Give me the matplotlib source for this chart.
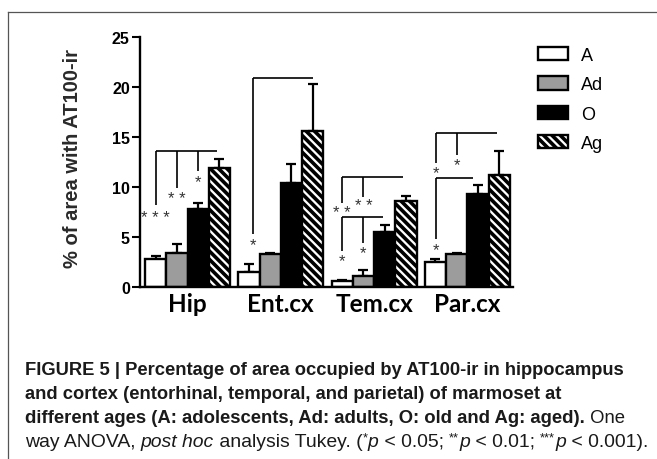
import matplotlib
matplotlib.use("Agg")
import matplotlib.pyplot as plt
import numpy as np
from matplotlib.lines import Line2D
from matplotlib.transforms import Bbox, TransformedBbox

# Percentage of area with AT100-ir, per region and age group
regions = ['Hip', 'Ent.cx', 'Tem.cx', 'Par.cx']
ages = ['A', 'Ad', 'O', 'Ag']

mean_A = [2.8, 1.5, 0.6, 2.5]
mean_Ad = [3.4, 3.25, 1.1, 3.3]
mean_O = [7.8, 10.4, 5.5, 9.25]
mean_Ag = [11.9, 15.6, 8.6, 11.2]

sem_A = [0.25, 0.75, 0.12, 0.25]
sem_Ad = [0.9, 0.1, 0.6, 0.1]
sem_O = [0.6, 1.85, 0.7, 0.9]
sem_Ag = [0.85, 4.65, 0.45, 2.35]

# Tukey brackets: (region, bar where line starts, bar where line ends, height,
#                  [(bar, lower end of the drop, star height, stars), ...])
brackets = [
    (0, 0, 2.9, 13.6, [(0, 8.2, 7.4, '***'), (1, 9.9, 9.3, '**'), (2, 11.6, 11.0, '*')]),
    (1, 0.2, 3, 20.9, [(0.2, 5.3, 4.7, '*')]),
    (2, 0, 2.85, 11.0, [(0, 8.4, 7.9, '**'), (1, 9.0, 8.6, '**')]),
    (2, 0, 1.9, 7.0, [(0, 3.6, 3.1, '*'), (1, 4.4, 3.9, '*')]),
    (3, 0.05, 2.9, 15.4, [(0.05, 12.4, 11.9, '*'), (1, 13.2, 12.7, '*')]),
    (3, 0.05, 1.75, 10.9, [(0.05, 4.8, 4.2, '*')]),
]

W, H = 657, 460
plt.rcParams['font.family'] = ['Liberation Sans', 'DejaVu Sans']
plt.rcParams['hatch.linewidth'] = 2.6

fig = plt.figure(figsize=(W / 100, H / 100), dpi=100)
ax = fig.add_axes([140 / W, 1 - 287.7 / H, 373 / W, 250 / H])

means = [mean_A, mean_Ad, mean_O, mean_Ag]
sems = [sem_A, sem_Ad, sem_O, sem_Ag]
faces = ['white', '#9c9c9c', 'black', 'white']
hatches = [None, None, None, '\\\\\\\\']
bw = 0.228
x = np.arange(len(regions))

def bar_x(g, i):
    return g + (i - 1.5) * bw

handles = []
for i, lab in enumerate(ages):
    xs = x + (i - 1.5) * bw
    b = ax.bar(xs, means[i], bw, color=faces[i], edgecolor='black',
               linewidth=1.7, hatch=hatches[i], label=lab, zorder=2)
    handles.append(b)
    ax.errorbar(xs, means[i], yerr=[np.zeros(len(x)), sems[i]], fmt='none',
                ecolor='black', elinewidth=1.6, capsize=3.6, capthick=1.6,
                zorder=1)

for g, i0, i1, top, drops in brackets:
    ax.plot([bar_x(g, i0), bar_x(g, i1)], [top, top], color='black',
            lw=1.2, solid_capstyle='butt', zorder=3)
    for i, low, ys, stars in drops:
        ax.plot([bar_x(g, i), bar_x(g, i)], [top, low], color='black',
                lw=1.2, solid_capstyle='butt', zorder=3)
        ax.annotate(' '.join(stars), (bar_x(g, i), ys), xytext=(0, -7),
                    textcoords='offset points', ha='center', va='baseline',
                    fontsize=12, color='#333333', zorder=3)

ax.set_xlim(-0.51, 3.49)
ax.set_ylim(0, 25)
ax.set_yticks([0, 5, 10, 15, 20, 25])
ax.set_xticks(x)
ax.set_xticklabels(regions, fontfamily=['Lato', 'DejaVu Sans'],
                   fontweight='bold', fontsize=17.5)
for t in ax.get_yticklabels():
    t.set_fontweight('bold')
    t.set_fontsize(11.6)
ax.tick_params(axis='y', direction='out', length=5.8, width=1.5, pad=1.5)
ax.tick_params(axis='x', length=0, pad=4)
for s in ['top', 'right']:
    ax.spines[s].set_visible(False)
for s in ['left', 'bottom']:
    ax.spines[s].set_linewidth(1.7)
ax.set_ylabel('% of area with AT100-ir', fontsize=14.5, fontweight='bold',
              color='#2a2a2a')
ax.yaxis.set_label_coords(-0.155, 0.515)

leg = ax.legend(handles=handles, loc='upper left', frameon=False,
                bbox_to_anchor=(538 / W, 1 - 48 / H),
                bbox_transform=fig.transFigure, fontsize=13,
                handlelength=1.65, handleheight=0.75, labelspacing=0.68,
                handletextpad=0.75, borderpad=0, borderaxespad=0)
clip = TransformedBbox(Bbox([[0, 0], [606 / W, 1]]), fig.transFigure)
for t in leg.get_texts():
    t.set_clip_box(clip)
    t.set_clip_on(True)

# page frame
fig.add_artist(Line2D([8 / W, 8 / W], [0, 1 - 13 / H], color='#555555',
                      lw=0.9, transform=fig.transFigure))
fig.add_artist(Line2D([8 / W, 1], [1 - 13 / H, 1 - 13 / H], color='#555555',
                      lw=0.9, transform=fig.transFigure))

# caption, written segment by segment
renderer = fig.canvas.get_renderer()

def caption_line(y_px, parts, size):
    xf = 25 / W
    yf = 1 - y_px / H
    for text, weight, style, sup in parts:
        fs = size * (0.68 if sup else 1)
        dy = 5.5 / H if sup else 0
        t = fig.text(xf, yf + dy, text, fontsize=fs, fontweight=weight,
                     fontstyle=style, color='#1a1a1a', va='baseline',
                     ha='left')
        xf += t.get_window_extent(renderer).width / W

caption_line(375, [('FIGURE 5 | Percentage of area occupied by AT100-ir in hippocampus',
                    'bold', 'normal', False)], 13.2)
caption_line(399, [('and cortex (entorhinal, temporal, and parietal) of marmoset at',
                    'bold', 'normal', False)], 13.2)
caption_line(423, [('different ages (A: adolescents, Ad: adults, O: old and Ag: aged).',
                    'bold', 'normal', False),
                   (' One', 'normal', 'normal', False)], 13.3)
caption_line(447, [('way ANOVA, ', 'normal', 'normal', False),
                   ('post hoc', 'normal', 'italic', False),
                   (' analysis Tukey. (', 'normal', 'normal', False),
                   ('*', 'normal', 'normal', True),
                   ('p', 'normal', 'italic', False),
                   (' < 0.05; ', 'normal', 'normal', False),
                   ('**', 'normal', 'normal', True),
                   ('p', 'normal', 'italic', False),
                   (' < 0.01; ', 'normal', 'normal', False),
                   ('***', 'normal', 'normal', True),
                   ('p', 'normal', 'italic', False),
                   (' < 0.001).', 'normal', 'normal', False)], 13.95)

fig.savefig('out.png', dpi=100)
